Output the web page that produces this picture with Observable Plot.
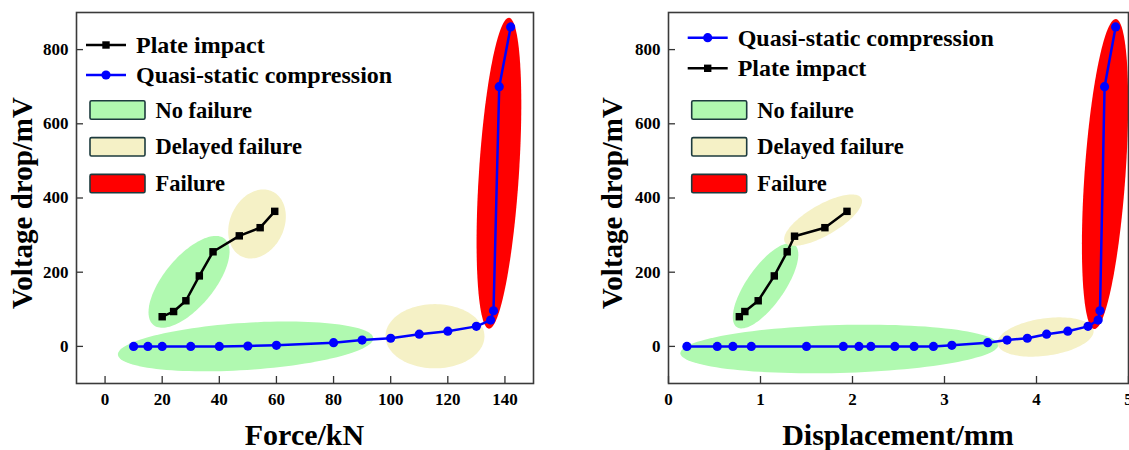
<!DOCTYPE html>
<html><head><meta charset="utf-8">
<script src="https://cdn.jsdelivr.net/npm/d3@7"></script>
<script src="https://cdn.jsdelivr.net/npm/@observablehq/plot@0.6"></script>
<style>
html,body{margin:0;padding:0;background:#fff;overflow:hidden}
#wrap{position:relative;width:1129px;height:450px}
#wrap svg{position:absolute;top:0}
</style></head><body><div id="wrap"></div>
<script>
// ---- Data ----
// Left chart: voltage drop vs force
const forceQS = [10, 15, 20, 30, 40, 50, 60, 80, 90, 100, 110, 120, 130, 135, 136, 138, 142];
const voltQSForce = [0, 0, 0, 0, 0, 1, 3, 10, 17, 22, 33, 41, 54, 71, 96, 700, 861];
const forcePI = [20, 24, 28.3, 33, 37.8, 47, 54.3, 59.4];
const voltPIForce = [80, 94, 123, 190, 255, 298, 320, 364];
// Right chart: voltage drop vs displacement
const dispQS = [0.2, 0.53, 0.7, 0.9, 1.5, 1.9, 2.07, 2.2, 2.46, 2.67, 2.88, 3.08, 3.47, 3.68, 3.9, 4.11, 4.34, 4.56, 4.67, 4.69, 4.74, 4.86];
const voltQSDisp = [0, 0, 0, 0, 0, 0, 0, 0, 0, 0, 0, 3, 10, 17, 22, 33, 41, 54, 71, 96, 700, 861];
const dispPI = [0.77, 0.83, 0.975, 1.15, 1.29, 1.37, 1.70, 1.94];
const voltPIDisp = [80, 94, 123, 190, 255, 297, 320, 364];

const forceTicks = [0, 20, 40, 60, 80, 100, 120, 140];
const dispTicks = [0, 1, 2, 3, 4, 5];
const voltTicks = [0, 200, 400, 600, 800];

// Region ellipses: centre + two conjugate semi-axis vectors, in data units
const regionKinds = ["No failure", "Delayed failure", "Failure"];
const regionColors = ["#b0f9b0", "#f5f1c6", "#ff0000"];
const ellipsesForce = [
  {kind: 0, cx: 49.2, cy: 0, ux: 44.7, uy: 22.3, vx: 0.53, vy: -63.4},
  {kind: 0, cx: 29.4, cy: 174, ux: 12.47, uy: 116.2, vx: 6.76, vy: -42.8},
  {kind: 1, cx: 53.2, cy: 330, ux: 5.32, uy: 87.8, vx: 8.57, vy: -30.7},
  {kind: 1, cx: 115.5, cy: 27.4, ux: 17.33, uy: 0, vx: 0, vy: -86.6},
  {kind: 2, cx: 137.9, cy: 466.8, ux: 3.53, uy: 418.9, vx: 6.99, vy: -3.47}
];
const ellipsesDisp = [
  {kind: 0, cx: 1.857, cy: -7, ux: 1.728, uy: 11.3, vx: 0.0068, vy: -64.6},
  {kind: 0, cx: 1.055, cy: 163.3, ux: 0.314, uy: 111.1, vx: 0.168, vy: -29.1},
  {kind: 1, cx: 1.680, cy: 340.3, ux: 0.415, uy: 59.3, vx: 0.0837, vy: -35.8},
  {kind: 1, cx: 4.098, cy: 25.3, ux: 0.522, uy: 18.2, vx: 0.0283, vy: -49.8},
  {kind: 2, cx: 4.745, cy: 464.6, ux: 0.118, uy: 417.8, vx: 0.222, vy: -3.85}
];

const FONT = "'Liberation Serif','Times New Roman',serif";

function ellipsePoints(e, n = 120) {
  const pts = [];
  for (let i = 0; i <= n; i++) {
    const t = 2 * Math.PI * i / n;
    pts.push({x: e.cx + e.ux * Math.cos(t) + e.vx * Math.sin(t), y: e.cy + e.uy * Math.cos(t) + e.vy * Math.sin(t)});
  }
  return pts;
}

function txt(s, x, y, size, anchor, label) {
  return s.append("text").attr("x", x).attr("y", y).attr("text-anchor", anchor)
    .attr("font-family", FONT).attr("font-weight", "bold").attr("font-size", size).attr("fill", "#000").text(label);
}

function makeChart(cfg) {
  const H = 450, mT = 12, mB = 67;
  const innerW = cfg.width - cfg.mL - cfg.mR, innerH = H - mT - mB;
  const qs = cfg.qsX.map((x, i) => ({x, y: cfg.qsY[i]}));
  const pi = cfg.piX.map((x, i) => ({x, y: cfg.piY[i]}));
  const ell = [0, 1, 2].flatMap(k => cfg.ellipses.filter(e => e.kind === k));
  const svg = Plot.plot({
    width: cfg.width, height: H,
    marginLeft: cfg.mL, marginRight: cfg.mR, marginTop: mT, marginBottom: mB,
    style: {fontFamily: FONT, fontSize: "17px", fontWeight: "bold", color: "#000", background: "transparent", overflow: "visible"},
    x: {domain: cfg.xDomain, ticks: cfg.xTicks, tickSize: 0, tickPadding: 9, tickFormat: d => String(d), label: null},
    y: {domain: [-100, 900], ticks: voltTicks, tickSize: 0, tickPadding: 8, tickFormat: d => String(d), label: null},
    marks: [
      ...ell.map(e => Plot.line(ellipsePoints(e), {x: "x", y: "y", fill: regionColors[e.kind], stroke: "none", curve: "linear-closed", clip: true})),
      Plot.line(pi, {x: "x", y: "y", stroke: "#000", strokeWidth: 2.5}),
      Plot.dot(pi, {x: "x", y: "y", symbol: "square", r: 4.2, fill: "#000", stroke: "none"}),
      Plot.line(qs, {x: "x", y: "y", stroke: "#0000ff", strokeWidth: 2.5}),
      Plot.dot(qs, {x: "x", y: "y", r: 4.6, fill: "#0000ff", stroke: "none"}),
      Plot.ruleX(cfg.xTicks, {insetTop: innerH - 7, stroke: "#333", strokeWidth: 1.3}),
      Plot.ruleY(voltTicks, {insetRight: innerW - 7, stroke: "#333", strokeWidth: 1.3}),
      Plot.frame({stroke: "#3a3a3a", strokeWidth: 1.6})
    ]
  });
  svg.style.left = cfg.left + "px";
  const s = d3.select(svg);
  // tick labels: bold serif
  s.selectAll("text").attr("font-size", 17).attr("font-family", FONT).attr("font-weight", "bold").attr("fill", "#000");
  // axis titles
  txt(s, cfg.mL + innerW / 2, 445, 30, "middle", cfg.xLabel);
  txt(s, 0, 0, 29, "middle", "Voltage drop/mV").attr("transform", `translate(${cfg.yLabelX},203) rotate(-90)`);
  // legend: series
  cfg.legendSeries.forEach(d => {
    const y = d.y;
    s.append("line").attr("x1", d.x0).attr("x2", d.x0 + 40).attr("y1", y).attr("y2", y).attr("stroke", d.color).attr("stroke-width", 2.5);
    if (d.square) s.append("rect").attr("x", d.x0 + 20 - 3.7).attr("y", y - 3.7).attr("width", 7.4).attr("height", 7.4).attr("fill", d.color);
    else s.append("circle").attr("cx", d.x0 + 20).attr("cy", y).attr("r", 4.6).attr("fill", d.color);
    txt(s, d.x0 + 50, y + 8, 24, "start", d.label);
  });
  // legend: regions
  regionKinds.forEach((k, i) => {
    const yc = cfg.boxY0 + i * 36.8;
    s.append("rect").attr("x", cfg.boxX).attr("y", yc - 9.2).attr("width", 55).attr("height", 18.4).attr("rx", 1.5)
      .attr("fill", regionColors[i]).attr("stroke", "#1d3b3e").attr("stroke-width", 1.6);
    txt(s, cfg.boxX + 65.5, yc + 7.5, 22.5, "start", k);
  });
  return svg;
}

const wrap = document.getElementById("wrap");
wrap.append(makeChart({
  left: 0, width: 560, mL: 76, mR: 27,
  xDomain: [-10, 150], xTicks: forceTicks, xLabel: "Force/kN", yLabelX: 32,
  qsX: forceQS, qsY: voltQSForce, piX: forcePI, piY: voltPIForce,
  ellipses: ellipsesForce,
  legendSeries: [
    {label: "Plate impact", color: "#000", square: true, x0: 86, y: 45},
    {label: "Quasi-static compression", color: "#0000ff", square: false, x0: 86, y: 75}
  ],
  boxX: 90, boxY0: 110
}));
wrap.append(makeChart({
  left: 565, width: 564, mL: 103, mR: 1,
  xDomain: [0, 5], xTicks: dispTicks, xLabel: "Displacement/mm", yLabelX: 57,
  qsX: dispQS, qsY: voltQSDisp, piX: dispPI, piY: voltPIDisp,
  ellipses: ellipsesDisp,
  legendSeries: [
    {label: "Quasi-static compression", color: "#0000ff", square: false, x0: 122.7, y: 37.7},
    {label: "Plate impact", color: "#000", square: true, x0: 122.7, y: 68.3}
  ],
  boxX: 126.7, boxY0: 110
}));
</script></body></html>
